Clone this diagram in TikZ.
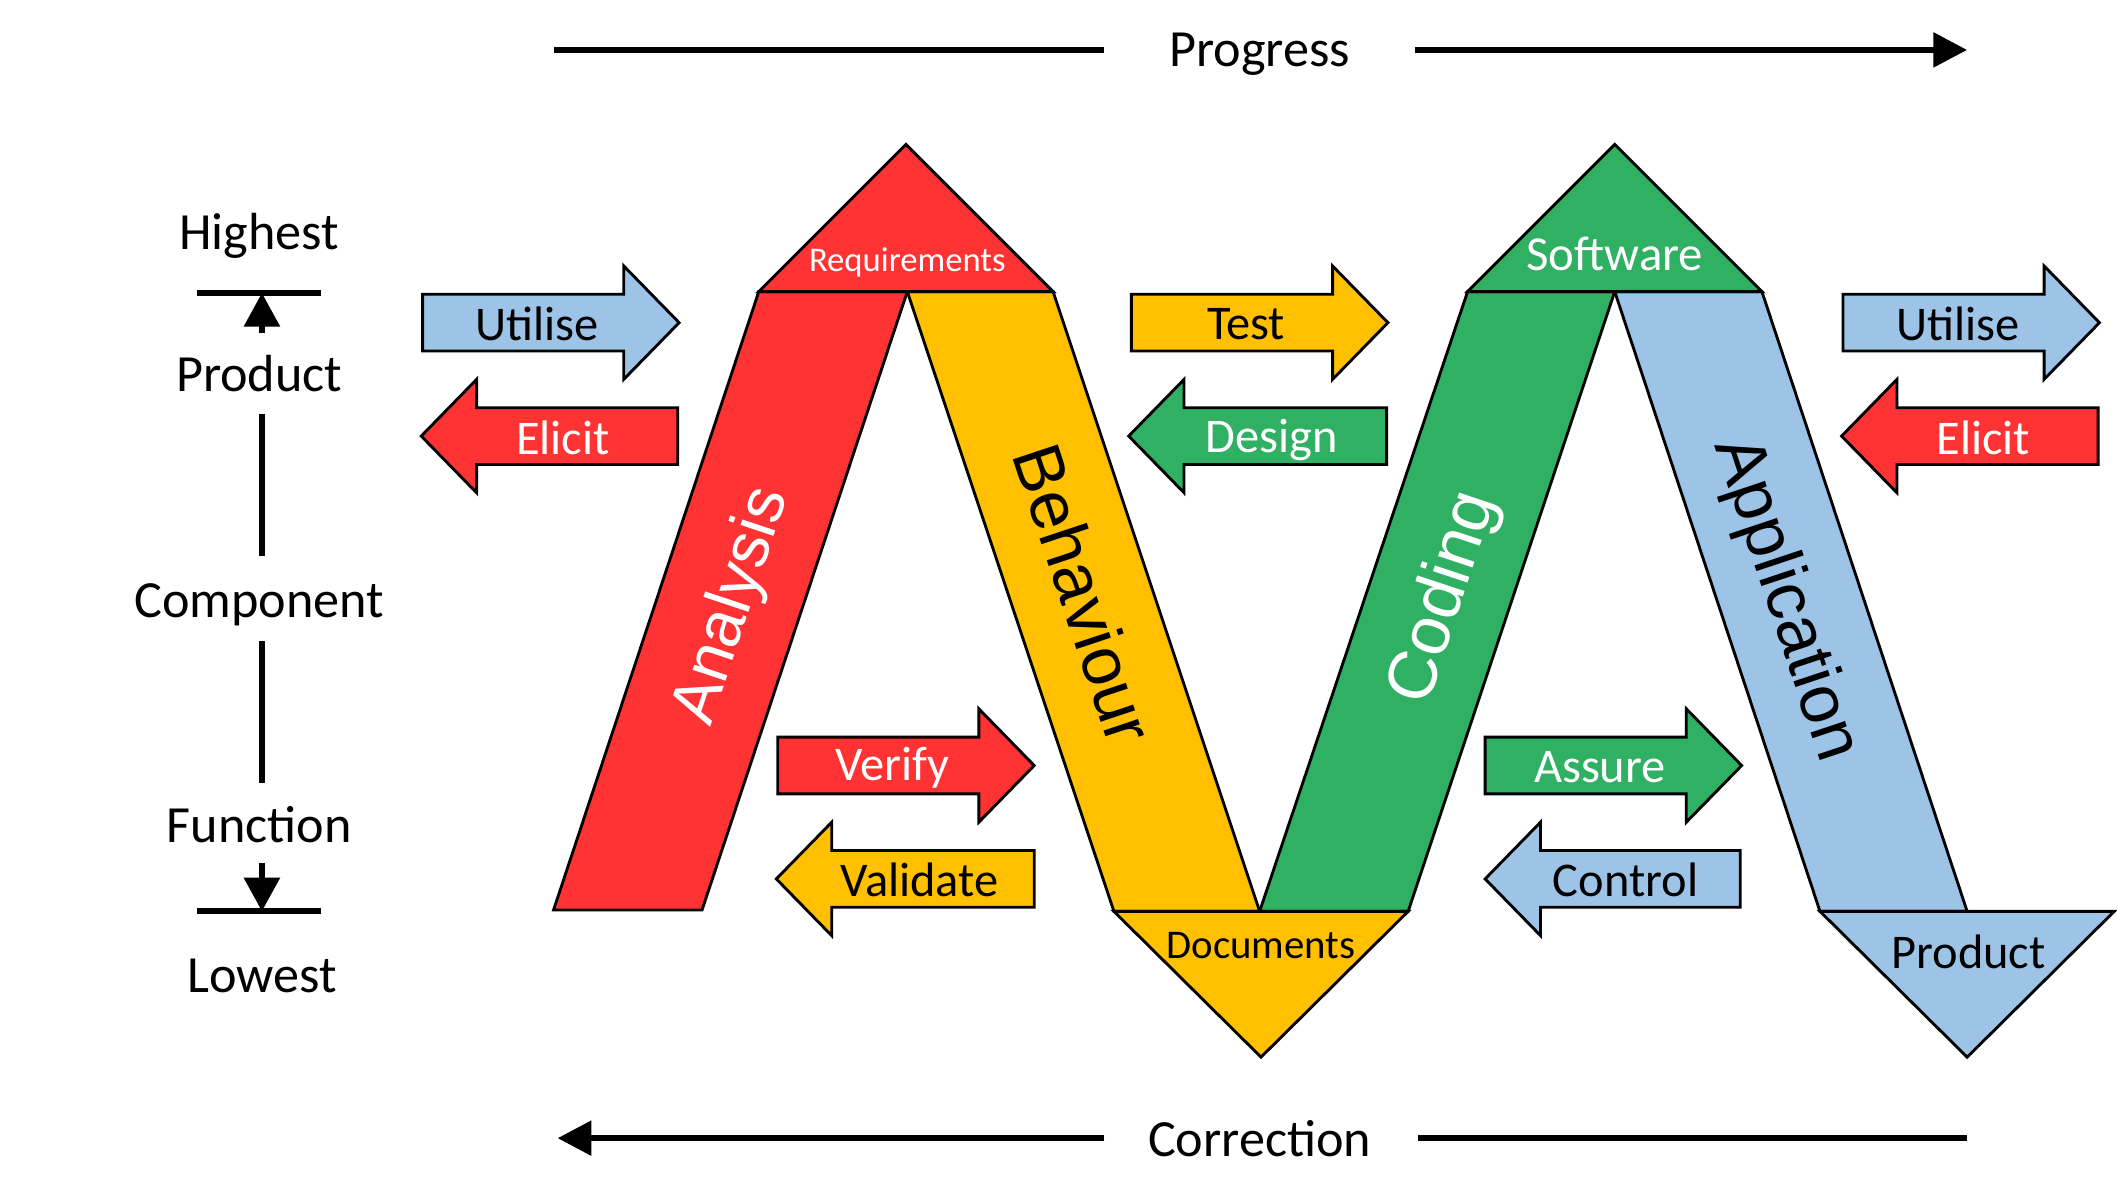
\documentclass[tikz,border=0pt]{standalone}
\usepackage{fontspec}
\setmainfont{Carlito}
\newfontfamily\bandfont{Liberation Sans}
\usepackage{xcolor}
\usepackage{tikz}
\usetikzlibrary{positioning,calc,arrows.meta}

\definecolor{vred}{RGB}{255,51,51}
\definecolor{vyellow}{RGB}{255,192,0}
\definecolor{vgreen}{RGB}{47,176,98}
\definecolor{vblue}{RGB}{157,195,230}

\begin{document}
\begin{tikzpicture}[x=0.1mm, y=-0.1mm,
    panel/.style={draw=black, line width=0.6pt, line join=miter},
    flow/.style={line width=1.3pt},
    flowhead/.style={-{Triangle[length=2.5mm, width=2.5mm]}, line width=1.3pt},
    scalehead/.style={-{Triangle[length=2.5mm, width=2.6mm]}, line width=1.3pt},
    side/.style={inner sep=0pt, font=\fontsize{11}{13}\selectfont},
    lbl/.style={inner sep=0pt, font=\fontsize{10.2}{12}\selectfont},
    bandtext/.style={inner sep=0pt, font=\bandfont\fontsize{14.5}{17}\selectfont}]
    \useasboundingbox (0,0) rectangle (1568,889.6);

    % Progress / Correction
    \node[side] (progress) at (933,40) {Progress};
    \coordinate (pgA) at (410,37);  \coordinate (pgB) at (818,37);
    \coordinate (pgC) at (1048,37); \coordinate (pgD) at (1457,37);
    \draw[flow] (pgA) -- (pgB);
    \draw[flowhead] (pgC) -- (pgD);
    \node[side] (correction) at (933,843) {Correction};
    \coordinate (crA) at (413,843);  \coordinate (crB) at (818,843);
    \coordinate (crC) at (1050,843); \coordinate (crD) at (1457,843);
    \draw[flowhead] (crB) -- (crA);
    \draw[flow] (crC) -- (crD);

    % Level scale
    \node[side] (highest) at (192,175) {Highest};
    \node[side] (product) at (192,277) {Product};
    \node[side] (component) at (192,448) {Component};
    \node[side] (function) at (192,611) {Function};
    \node[side] (lowest) at (194,723) {Lowest};
    \coordinate (topL) at (146,217); \coordinate (topR) at (238,217);
    \coordinate (botL) at (146,675); \coordinate (botR) at (238,675);
    \draw[flow] (topL) -- (topR);
    \draw[flow] (botL) -- (botR);
    \draw[scalehead] (194,247) -- (194,217);
    \draw[flow] (194,307) -- (194,412);
    \draw[flow] (194,475) -- (194,580);
    \draw[scalehead] (194,639) -- (194,675);

    % Bands
    \draw[panel, fill=vred] (410,674) -- (520,674) -- (672,216) -- (562,216) -- cycle;
    \draw[panel, fill=vyellow] (672,216) -- (780,216) -- (933,675) -- (825,675) -- cycle;
    \draw[panel, fill=vgreen] (933,675) -- (1043,675) -- (1196,216) -- (1087,216) -- cycle;
    \draw[panel, fill=vblue] (1196,216) -- (1305,216) -- (1457,675) -- (1348,675) -- cycle;
    \node[bandtext, white, rotate=71.6, font=\bandfont\fontsize{13.8}{16}\selectfont] (analysis) at (543,449) {Analysis};
    \node[bandtext, rotate=-71.6] (behaviour) at (803,440) {Behaviour};
    \node[bandtext, white, rotate=71.6] (coding) at (1070,443) {Coding};
    \node[bandtext, rotate=-71.6] (application) at (1322,444) {Application};

    % Triangles
    \draw[panel, fill=vred] (562,216) -- (780,216) -- (671,107) -- cycle;
    \draw[panel, fill=vyellow] (825,675) -- (1043,675) -- (934,783) -- cycle;
    \draw[panel, fill=vgreen] (1087,216) -- (1305,216) -- (1196,107) -- cycle;
    \draw[panel, fill=vblue] (1348,675) -- (1566,675) -- (1457,783) -- cycle;
    \node[inner sep=0pt, white, font=\fontsize{7.3}{9}\selectfont] (requirements) at (672,194) {Requirements};
    \node[inner sep=0pt, font=\fontsize{8.6}{10}\selectfont] (documents) at (934,700) {Documents};
    \node[inner sep=0pt, white, font=\fontsize{10.3}{12}\selectfont] (software) at (1196,188) {Software};
    \node[lbl] (productout) at (1458,705) {Product};

    % Right arrows
    \draw[panel, fill=vblue] (313,218) -- ++(149,0) -- ++(0,-21) -- ++(41,42) -- ++(-41,42) -- ++(0,-21) -- ++(-149,0) -- cycle;
    \node[lbl] (utiliseA) at (398,240) {Utilise};
    \draw[panel, fill=vyellow] (838,218) -- ++(149,0) -- ++(0,-21) -- ++(41,42) -- ++(-41,42) -- ++(0,-21) -- ++(-149,0) -- cycle;
    \node[lbl] (test) at (923,240) {Test};
    \draw[panel, fill=vblue] (1365,218) -- ++(149,0) -- ++(0,-21) -- ++(41,42) -- ++(-41,42) -- ++(0,-21) -- ++(-149,0) -- cycle;
    \node[lbl] (utiliseB) at (1450,240) {Utilise};
    \draw[panel, fill=vred] (576,546) -- ++(149,0) -- ++(0,-21) -- ++(41,42) -- ++(-41,42) -- ++(0,-21) -- ++(-149,0) -- cycle;
    \node[lbl, white] (verify) at (661,569) {Verify};
    \draw[panel, fill=vgreen] (1100,546) -- ++(149,0) -- ++(0,-21) -- ++(41,42) -- ++(-41,42) -- ++(0,-21) -- ++(-149,0) -- cycle;
    \node[lbl, white] (assure) at (1185,568) {Assure};

    % Left arrows
    \draw[panel, fill=vred] (312,323) -- ++(41,-42) -- ++(0,21) -- ++(149,0) -- ++(0,42) -- ++(-149,0) -- ++(0,21) -- cycle;
    \node[lbl, white] (elicitA) at (417,324) {Elicit};
    \draw[panel, fill=vgreen] (836,323) -- ++(41,-42) -- ++(0,21) -- ++(150,0) -- ++(0,42) -- ++(-150,0) -- ++(0,21) -- cycle;
    \node[lbl, white] (design) at (942,326) {Design};
    \draw[panel, fill=vred] (1364,323) -- ++(41,-42) -- ++(0,21) -- ++(149,0) -- ++(0,42) -- ++(-149,0) -- ++(0,21) -- cycle;
    \node[lbl, white] (elicitB) at (1469,324) {Elicit};
    \draw[panel, fill=vyellow] (575,651) -- ++(41,-42) -- ++(0,21) -- ++(150,0) -- ++(0,42) -- ++(-150,0) -- ++(0,21) -- cycle;
    \node[lbl] (validate) at (681,652) {Validate};
    \draw[panel, fill=vblue] (1100,651) -- ++(41,-42) -- ++(0,21) -- ++(148,0) -- ++(0,42) -- ++(-148,0) -- ++(0,21) -- cycle;
    \node[lbl] (control) at (1204,652) {Control};
\end{tikzpicture}
\end{document}
